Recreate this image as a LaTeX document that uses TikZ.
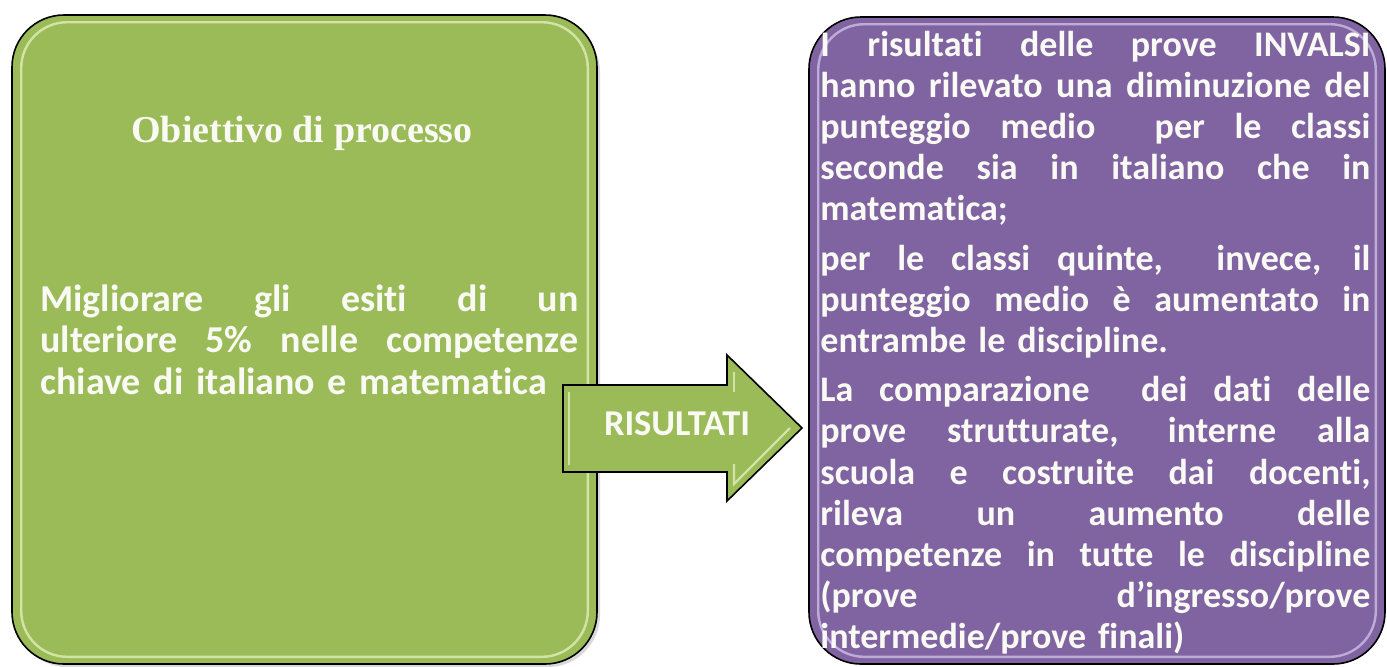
\documentclass[tikz,border=0pt]{standalone}
\usepackage{fontspec}
\setmainfont{Carlito}[Ligatures=NoCommon]
\newfontfamily\headfont{Liberation Serif}
\definecolor{gfill}{HTML}{9BBB59}
\definecolor{glight}{HTML}{E2EEB8}
\definecolor{pfill}{HTML}{8064A2}
\definecolor{plight}{HTML}{CDBDE6}
\definecolor{txtwhite}{HTML}{FAFAF5}
\newcommand{\jline}[2]{\leavevmode\hbox to #1{\spaceskip=0.22em plus 1fil\xspaceskip=0.22em plus 1fil\relax #2}}
\tikzset{
  panel/.style={draw=black, line width=0.8pt, rounded corners=26pt},
  bevel/.style={line width=1.2pt, rounded corners=23pt, opacity=0.8},
  bodytext/.style={text=txtwhite, inner sep=0pt, anchor=base west, align=left},
}
\begin{document}
\begin{tikzpicture}[x=0.5pt,y=-0.5pt]
\useasboundingbox (0,0) rectangle (1387,666);
% green panel
\path[fill=gray!30, rounded corners=26pt] (15,20) rectangle (600,667);
\node[panel, fill=gfill, minimum width=292.5pt, minimum height=324.5pt] (obj) at (304.5,339.5) {};
\draw[bevel, glight] ([shift={(5pt,-4pt)}]obj.north west) rectangle ([shift={(-5pt,4pt)}]obj.south east);
% purple panel
\node[panel, fill=pfill, minimum width=288pt, minimum height=323.5pt] (res) at (1097,340.5) {};
\draw[bevel, plight] ([shift={(5pt,-4pt)}]res.north west) rectangle ([shift={(-5pt,4pt)}]res.south east);
% arrow
\coordinate (a1) at (563,385);
\coordinate (a2) at (727,385);
\coordinate (a3) at (727,355);
\coordinate (tip) at (802,428);
\coordinate (a5) at (727,501);
\coordinate (a6) at (727,472);
\coordinate (a7) at (563,472);
\draw[fill=gfill, line width=0.8pt, line join=miter] (a1) -- (a2) -- (a3) -- (tip) -- (a5) -- (a6) -- (a7) -- cycle;
\draw[glight, line width=1.2pt, opacity=0.8] (569,392) -- (569,465);
\draw[glight, line width=1.2pt, opacity=0.8] (734,372) -- (734,392);
\draw[glight, line width=1.2pt, opacity=0.8] (734,464) -- (734,484) -- (790,428);
\node[text=txtwhite, font=\bfseries\fontsize{18.2}{20}\selectfont, inner sep=0pt] (lbl) at (677,424) {RISULTATI};
% green texts
\node[text=txtwhite, font=\headfont\bfseries\fontsize{19}{22}\selectfont, inner sep=0pt, anchor=base] (head) at (302,142) {Obiettivo di processo};
\node[bodytext, text width=269pt, font=\bfseries\fontsize{19}{20.85}\selectfont] (goal) at (40,311) {%
\jline{269pt}{Migliorare gli esiti di un}\\
\jline{269pt}{ulteriore 5\% nelle competenze}\\
chiave di italiano e matematica};
% purple text
\node[bodytext, text width=275pt, font=\bfseries\fontsize{18}{20.6}\selectfont] (results) at (820,56) {%
\jline{275pt}{I risultati delle prove INVALSI}\\
\jline{275pt}{hanno rilevato una diminuzione del}\\
\jline{275pt}{punteggio medio \ per le classi}\\
\jline{275pt}{seconde sia in italiano che in}\\
matematica;\\[4pt]
\jline{275pt}{per le classi quinte,\ \ invece, il}\\
\jline{275pt}{punteggio medio è aumentato in}\\
entrambe le discipline.\\[4pt]
\jline{275pt}{La comparazione\ \ dei dati delle}\\
\jline{275pt}{prove strutturate, interne alla}\\
\jline{275pt}{scuola e costruite dai docenti,}\\
\jline{275pt}{rileva un aumento delle}\\
\jline{275pt}{competenze in tutte le discipline}\\
\jline{275pt}{(prove d’ingresso/prove}\\
intermedie/prove finali)};
\end{tikzpicture}
\end{document}
